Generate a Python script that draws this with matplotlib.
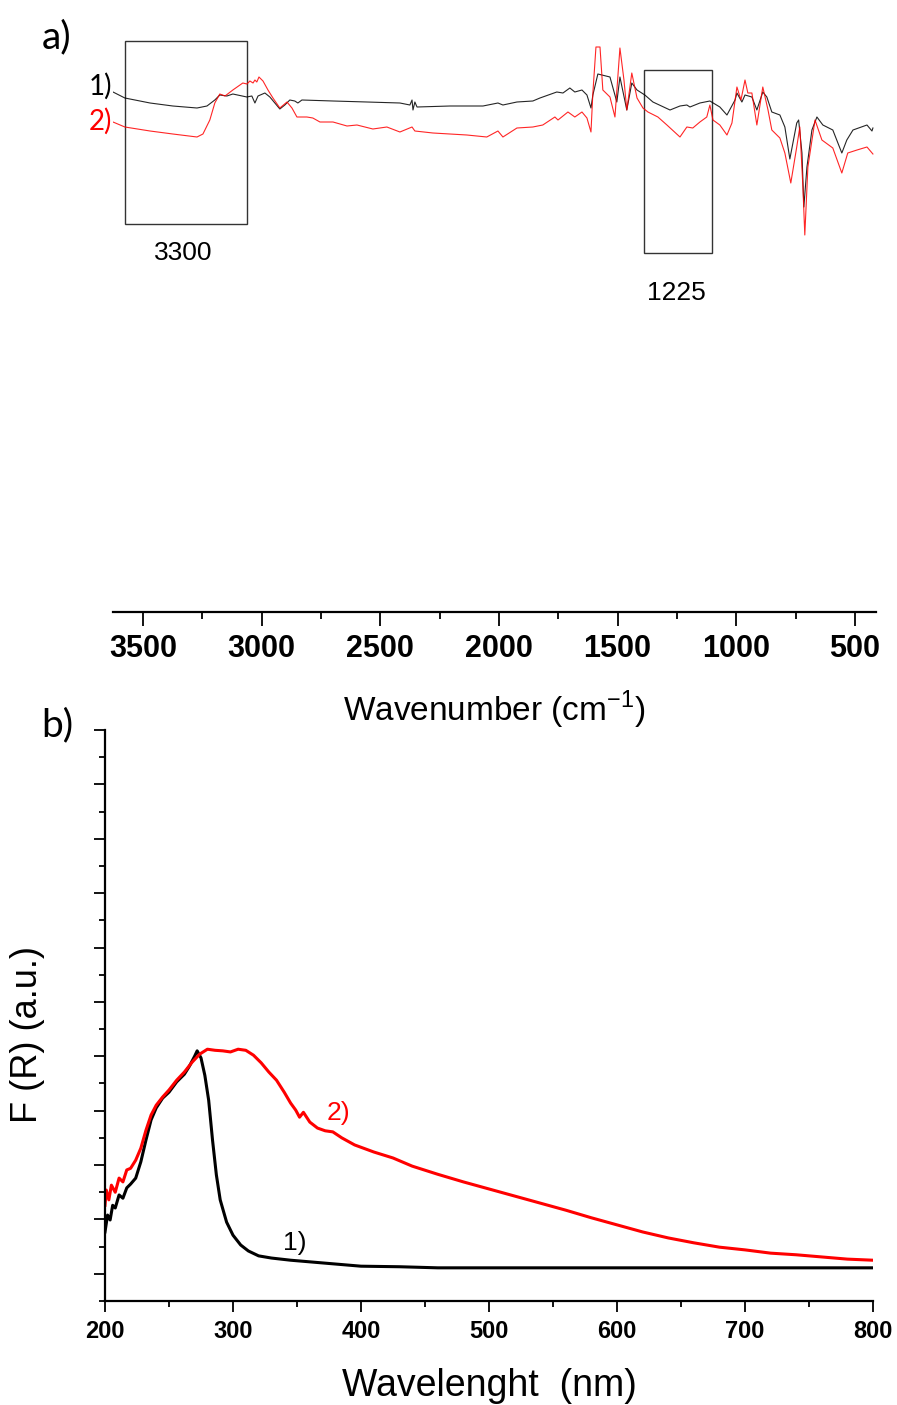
import numpy as np
import matplotlib
matplotlib.use("Agg")
import matplotlib.pyplot as plt
from matplotlib.patches import Rectangle
from matplotlib.ticker import MultipleLocator

ARIAL = ["Liberation Sans", "DejaVu Sans"]
CAL = ["Lato", "DejaVu Sans"]

# ── a) FTIR spectra (arbitrary transmittance units) ──────────────────────────
wn_1 = [3626, 3576, 3470, 3374, 3272, 3230, 3197, 3176, 3146, 3121, 3062, 3041,
        3028, 3015, 2986, 2965, 2923, 2902, 2881, 2860, 2847, 2830, 2699, 2556,
        2417, 2375, 2366, 2362, 2354, 2345, 2206, 2067, 2004, 1983, 1924, 1857,
        1827, 1756, 1730, 1701, 1680, 1650, 1629, 1612, 1604, 1583, 1532, 1503,
        1490, 1461, 1440, 1418, 1385, 1351, 1279, 1237, 1208, 1195, 1153, 1111,
        1069, 1039, 1005, 997, 976, 963, 934, 913, 888, 871, 850, 816, 795, 774,
        745, 737, 723, 715, 702, 681, 660, 635, 593, 555, 534, 508, 449, 428, 424]
t_1 = [520, 514, 509, 506, 504, 506, 512, 517, 516, 518, 515, 516,
       509, 516, 519, 515, 503, 507, 512, 511, 509, 512, 511, 510,
       509, 507, 512, 502, 510, 505, 506, 506, 509, 507, 510, 511,
       514, 520, 519, 524, 520, 522, 517, 504, 517, 538, 535, 510,
       535, 502, 529, 522, 517, 510, 502, 506, 507, 505, 509, 511,
       505, 497, 512, 519, 510, 517, 515, 502, 520, 515, 500, 497, 485, 453,
       489, 492, 459, 405, 445, 482, 495, 487, 482, 459, 472, 482, 487, 481, 484]

wn_2 = [3626, 3576, 3470, 3374, 3272, 3247, 3218, 3197, 3176, 3154, 3121, 3079,
        3062, 3049, 3036, 3028, 3020, 3011, 2994, 2973, 2952, 2923, 2893, 2872,
        2851, 2809, 2784, 2754, 2699, 2640, 2598, 2531, 2472, 2417, 2366, 2354,
        2278, 2135, 2051, 2004, 1983, 1924, 1857, 1815, 1764, 1751, 1709, 1680,
        1650, 1629, 1612, 1604, 1591, 1574, 1562, 1532, 1511, 1490, 1473, 1461,
        1440, 1418, 1393, 1372, 1330, 1292, 1237, 1208, 1183, 1153, 1124, 1111,
        1098, 1069, 1039, 1018, 997, 980, 963, 951, 934, 913, 888, 866, 850, 816,
        795, 770, 745, 732, 719, 711, 698, 668, 639, 593, 555, 530, 491, 449, 424]
t_2 = [490, 485, 481, 478, 475, 478, 492, 509, 518, 516, 522, 529,
       528, 531, 529, 532, 530, 535, 531, 522, 514, 504, 510, 504,
       495, 495, 494, 490, 490, 486, 487, 483, 485, 480, 485, 481,
       479, 477, 475, 481, 475, 484, 485, 487, 495, 492, 500, 495,
       500, 494, 480, 519, 565, 565, 522, 515, 495, 564, 532, 502,
       539, 514, 504, 500, 495, 487, 475, 485, 484, 490, 495, 507,
       492, 487, 477, 489, 525, 512, 532, 519, 519, 487, 525, 502, 482, 474,
       459, 429, 465, 485, 425, 377, 445, 492, 472, 464, 439, 459, 462, 465, 458]

# highlighted regions: (label, wn_left, wn_right, t_bottom, t_top, label_wn, label_t)
boxes = [("3300", 3576, 3062, 388, 571, 3331, 359),
         ("1225", 1389, 1102, 359, 542, 1254, 319)]

ir_ticks = [3500, 3000, 2500, 2000, 1500, 1000, 500]

# ── b) DRS UV-vis, Kubelka-Munk ───────────────────────────────────────────────
wl_1 = [200, 202, 204, 206, 208, 211, 214, 217, 220, 224, 228, 232, 236, 240,
        245, 250, 256, 262, 266, 270, 272, 275, 278, 281, 284, 287, 290, 295,
        300, 306, 312, 320, 330, 345, 360, 380, 400, 430, 460, 800]
fr_1 = [0.77, 1.08, 0.99, 1.26, 1.21, 1.45, 1.39, 1.58, 1.65, 1.76, 2.06, 2.46,
        2.83, 3.05, 3.23, 3.34, 3.53, 3.67, 3.82, 4.00, 4.10, 3.97, 3.65, 3.19,
        2.46, 1.82, 1.36, 0.95, 0.71, 0.53, 0.42, 0.33, 0.29, 0.25, 0.22, 0.18,
        0.14, 0.13, 0.11, 0.11]

wl_2 = [200, 201, 203, 205, 208, 211, 214, 217, 220, 224, 228, 232, 236, 240,
        245, 250, 256, 262, 268, 274, 280, 286, 292, 298, 304, 310, 316, 322,
        328, 334, 340, 345, 349, 352, 355, 360, 366, 372, 378, 385, 395, 410,
        425, 440, 460, 480, 500, 520, 540, 560, 580, 600, 620, 640, 660, 680,
        700, 720, 740, 760, 780, 800]
fr_2 = [1.26, 1.54, 1.36, 1.63, 1.50, 1.76, 1.69, 1.91, 1.94, 2.09, 2.31, 2.64,
        2.92, 3.10, 3.25, 3.38, 3.56, 3.71, 3.89, 4.04, 4.13, 4.11, 4.10, 4.08,
        4.13, 4.11, 4.02, 3.88, 3.71, 3.56, 3.34, 3.14, 3.01, 2.88, 2.97, 2.79,
        2.68, 2.63, 2.61, 2.50, 2.37, 2.24, 2.13, 1.98, 1.83, 1.69, 1.56, 1.43,
        1.30, 1.17, 1.03, 0.90, 0.77, 0.66, 0.57, 0.49, 0.44, 0.38, 0.35, 0.31,
        0.27, 0.25]

W, H = 897, 1405
fig = plt.figure(figsize=(W / 100, H / 100), dpi=100)

# ── Panel a ──────────────────────────────────────────────────────────────────
ax1 = fig.add_axes([113 / W, 1 - 612 / H, 763 / W, 582 / H])
ax1.plot(wn_1, t_1, color="black", lw=0.8, alpha=0.85)
ax1.plot(wn_2, t_2, color="red", lw=0.8, alpha=0.85)
for lab, x0, x1, y0, y1, lx, ly in boxes:
    ax1.add_patch(Rectangle((x0, y0), x1 - x0, y1 - y0, fill=False,
                            edgecolor="#333333", lw=1.0))
    ax1.text(lx, ly, lab, ha="center", va="center",
             fontsize=19, family=ARIAL, color="black")
ax1.set_xlim(3626, 411)
ax1.set_ylim(0, 582)
ax1.set_yticks([])
ax1.spines[["top", "right", "left"]].set_visible(False)
ax1.spines["bottom"].set_linewidth(1.6)
ax1.set_xticks(ir_ticks)
ax1.xaxis.set_minor_locator(MultipleLocator(250))
ax1.tick_params(axis="x", which="major", direction="out", length=10, width=1.3, pad=6)
ax1.tick_params(axis="x", which="minor", direction="out", length=5, width=1.3)
for t in ax1.get_xticklabels():
    t.set_fontfamily(ARIAL)
    t.set_fontsize(22)
    t.set_fontweight("bold")
ax1.set_xlabel("Wavenumber (cm$^{\\mathregular{-1}}$)", family=ARIAL,
               fontsize=24, labelpad=18)

fig.text(100 / W, 1 - 86 / H, "1)", color="black", fontsize=20, family=CAL,
         ha="center", va="center")
fig.text(100 / W, 1 - 121 / H, "2)", color="red", fontsize=20, family=CAL,
         ha="center", va="center")
fig.text(57 / W, 1 - 37 / H, "a)", fontsize=28, family=CAL, ha="center", va="center")

# ── Panel b ──────────────────────────────────────────────────────────────────
ax2 = fig.add_axes([105 / W, 1 - 1301 / H, 768 / W, 571 / H])
ax2.plot(wl_1, fr_1, color="black", lw=2.2)
ax2.plot(wl_2, fr_2, color="red", lw=2.2)
ax2.text(382, 2.96, "2)", color="red", fontsize=19, family=ARIAL,
         ha="center", va="center")
ax2.text(348, 0.57, "1)", color="black", fontsize=19, family=ARIAL,
         ha="center", va="center")
ax2.set_xlim(200, 800)
ax2.set_ylim(-0.5, 10)
ax2.spines[["top", "right"]].set_visible(False)
ax2.spines[["left", "bottom"]].set_linewidth(1.6)
ax2.xaxis.set_major_locator(MultipleLocator(100))
ax2.xaxis.set_minor_locator(MultipleLocator(50))
ax2.yaxis.set_major_locator(MultipleLocator(1))
ax2.yaxis.set_minor_locator(MultipleLocator(0.5))
ax2.set_yticklabels([])
ax2.tick_params(which="major", direction="out", length=8, width=1.3, pad=6)
ax2.tick_params(which="minor", direction="out", length=4, width=1.3)
for t in ax2.get_xticklabels():
    t.set_fontfamily(ARIAL)
    t.set_fontsize(17)
    t.set_fontweight("bold")
ax2.set_xlabel("Wavelenght  (nm)", family=ARIAL, fontsize=27, labelpad=18)
ax2.set_ylabel("F (R) (a.u.)", family=ARIAL, fontsize=26)
ax2.yaxis.set_label_coords(-0.078, 0.466)
fig.text(57 / W, 1 - 725 / H, "b)", fontsize=28, family=CAL, ha="center", va="center")

fig.savefig("out.png", dpi=100)
